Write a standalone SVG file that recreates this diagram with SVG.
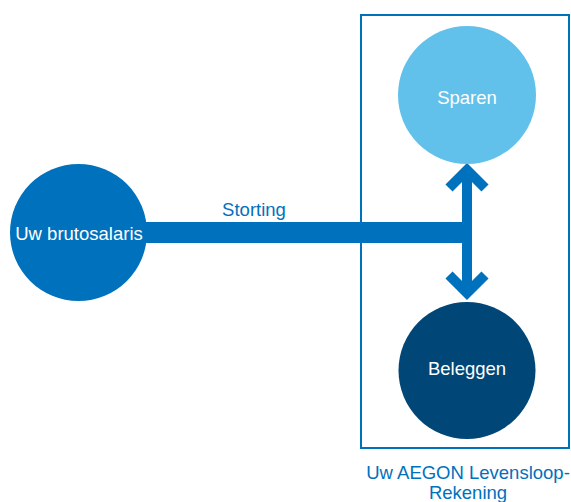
<svg xmlns="http://www.w3.org/2000/svg" width="571" height="502" viewBox="0 0 571 502">
<style>
.lbl{font-family:"Liberation Sans",Arial,sans-serif;font-size:18.5px;text-anchor:middle}
.w{fill:#ffffff}
.b{fill:#0071bc}
.conn{fill:none;stroke:#0071bc;stroke-linejoin:miter;stroke-linecap:butt}
</style>
<rect width="571" height="502" fill="#ffffff"/>
<g id="account">
<rect x="361" y="15" width="208" height="433" fill="none" stroke="#0071bc" stroke-width="2"/>
<text class="lbl b" x="468" y="479">Uw AEGON Levensloop-</text>
<text class="lbl b" x="468" y="499">Rekening</text>
</g>
<g id="connectors">
<rect x="140" y="222" width="327" height="21" fill="#0071bc"/>
<line class="conn" x1="467" y1="170" x2="467" y2="293" stroke-width="10"/>
<polyline class="conn" points="449,188 467,170 485,188" stroke-width="10"/>
<polyline class="conn" points="449,275 467,293 485,275" stroke-width="10"/>
<text class="lbl b" x="254" y="216">Storting</text>
</g>
<g id="brutosalaris">
<circle cx="78.5" cy="232.5" r="68.5" fill="#0071bc"/>
<text class="lbl w" x="79" y="240">Uw brutosalaris</text>
</g>
<g id="sparen">
<circle cx="467" cy="95" r="69" fill="#62c1eb"/>
<text class="lbl w" x="467" y="104">Sparen</text>
</g>
<g id="beleggen">
<circle cx="467" cy="370.5" r="68.5" fill="#004676"/>
<text class="lbl w" x="467" y="375">Beleggen</text>
</g>
</svg>
